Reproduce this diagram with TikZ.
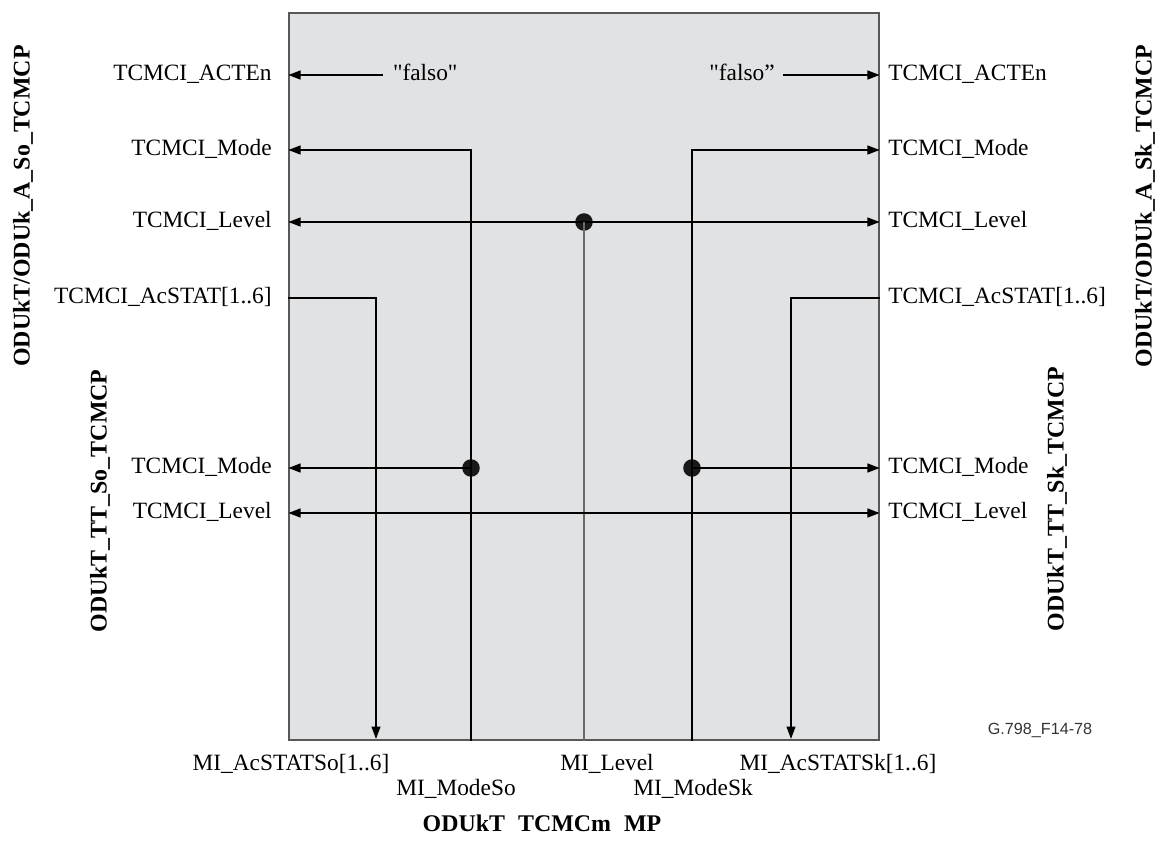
\documentclass[tikz,border=0pt]{standalone}
\usepackage{fontspec}
\setmainfont{Liberation Serif}
\newfontfamily\figsans{Liberation Sans}
\usetikzlibrary{arrows.meta}
\definecolor{panelgray}{RGB}{225,226,228}
\definecolor{edgegray}{RGB}{88,88,88}
\definecolor{wiregray}{RGB}{105,105,105}

\tikzset{
  mpbox/.style={draw=edgegray,fill=panelgray,line width=0.9pt,
    minimum width=11.8cm,minimum height=14.54cm,inner sep=0pt},
  lbl/.style={font=\fontsize{13.3}{15}\selectfont,inner sep=0pt,
    text height=0.66em,text depth=0pt},
  sidelbl/.style={font=\fontsize{13.6}{15}\selectfont\bfseries,rotate=90,inner sep=0pt},
  wire/.style={line width=1.1pt},
  sig/.style={wire,-{Triangle[length=7pt,width=5pt]}},
  dsig/.style={wire,{Triangle[length=7pt,width=5pt]}-{Triangle[length=7pt,width=5pt]}},
  dot/.style={circle,fill=black!90,inner sep=0pt,minimum size=10pt},
}

\begin{document}
\begin{tikzpicture}[x=0.02cm,y=-0.02cm]
  \useasboundingbox (0,0) rectangle (1157,843);

  % main function block
  \node[mpbox] (mp) at (584,376.5) {};

  % side titles
  \node[sidelbl] (aso) at (23,206) {ODUkT/ODUk\_A\_So\_TCMCP};
  \node[sidelbl] (ask) at (1145,206) {ODUkT/ODUk\_A\_Sk\_TCMCP};
  \node[sidelbl] (ttso) at (100,501) {ODUkT\_TT\_So\_TCMCP};
  \node[sidelbl] (ttsk) at (1057,499) {ODUkT\_TT\_Sk\_TCMCP};

  % left port labels
  \node[lbl,anchor=east] (actenL) at (272,75) {TCMCI\_ACTEn};
  \node[lbl,anchor=east] (modeL) at (272,150) {TCMCI\_Mode};
  \node[lbl,anchor=east] (levelL) at (272,222) {TCMCI\_Level};
  \node[lbl,anchor=east] (acstatL) at (272,298) {TCMCI\_AcSTAT[1..6]};
  \node[lbl,anchor=east] (ttmodeL) at (272,468) {TCMCI\_Mode};
  \node[lbl,anchor=east] (ttlevelL) at (272,513) {TCMCI\_Level};

  % right port labels
  \node[lbl,anchor=west] (actenR) at (888,75) {TCMCI\_ACTEn};
  \node[lbl,anchor=west] (modeR) at (888,150) {TCMCI\_Mode};
  \node[lbl,anchor=west] (levelR) at (888,222) {TCMCI\_Level};
  \node[lbl,anchor=west] (acstatR) at (888,298) {TCMCI\_AcSTAT[1..6]};
  \node[lbl,anchor=west] (ttmodeR) at (888,468) {TCMCI\_Mode};
  \node[lbl,anchor=west] (ttlevelR) at (888,513) {TCMCI\_Level};

  % constants
  \node[lbl,anchor=west,inner xsep=5.5pt] (falsoL) at (383,75)
    {\textquotedbl falso\textquotedbl};
  \node[lbl,anchor=east,inner xsep=4.5pt] (falsoR) at (783,75)
    {\textquotedbl falso”};

  % MI labels
  \node[lbl] (miacso) at (291,765) {MI\_AcSTATSo[1..6]};
  \node[lbl] (mimodeso) at (456,790) {MI\_ModeSo};
  \node[lbl] (milevel) at (607,765) {MI\_Level};
  \node[lbl] (mimodesk) at (693,790) {MI\_ModeSk};
  \node[lbl] (miacsk) at (838,765) {MI\_AcSTATSk[1..6]};
  \node[lbl,font=\fontsize{13.6}{15}\selectfont\bfseries] (mptitle) at (542,826)
    {ODUkT\hspace{0.55em}TCMCm\hspace{0.55em}MP};
  \node[font=\figsans\fontsize{9.2}{11}\selectfont,text=black!80,inner sep=0pt]
    (figid) at (1040,730) {G.798\_F14-78};

  % junctions
  \node[dot] (jlevel) at (584,222) {};
  \node[dot] (jso) at (471,468) {};
  \node[dot] (jsk) at (692,468) {};
  \coordinate (soTop) at (471,150);
  \coordinate (skTop) at (692,150);
  \coordinate (acsoKnee) at (376,298);
  \coordinate (acskKnee) at (791,298);

  % ACTEn
  \draw[sig] (falsoL.west) -- (mp.west |- falsoL);
  \draw[sig] (falsoR.east) -- (mp.east |- falsoR);

  % mode
  \draw[sig] (jso.center) -- (soTop) -- (mp.west |- modeL);
  \draw[wire] (jso.center) -- (mp.south -| jso);
  \draw[sig] (jso.center) -- (mp.west |- ttmodeL);
  \draw[sig] (jsk.center) -- (skTop) -- (mp.east |- modeR);
  \draw[wire] (jsk.center) -- (mp.south -| jsk);
  \draw[sig] (jsk.center) -- (mp.east |- ttmodeR);

  % level
  \draw[dsig] (mp.west |- levelL) -- (mp.east |- levelR);
  \draw[line width=1.4pt,draw=wiregray] (jlevel.center) -- (mp.south -| jlevel);
  \draw[dsig] (mp.west |- ttlevelL) -- (mp.east |- ttlevelR);

  % acceptance status
  \draw[line width=0.8pt,-{Triangle[length=7pt,width=5pt]}]
    (mp.west |- acstatL) -- (acsoKnee) -- ([yshift=1pt]mp.south -| acsoKnee);
  \draw[line width=0.8pt,-{Triangle[length=7pt,width=5pt]}]
    (mp.east |- acstatR) -- (acskKnee) -- ([yshift=1pt]mp.south -| acskKnee);
\end{tikzpicture}
\end{document}
